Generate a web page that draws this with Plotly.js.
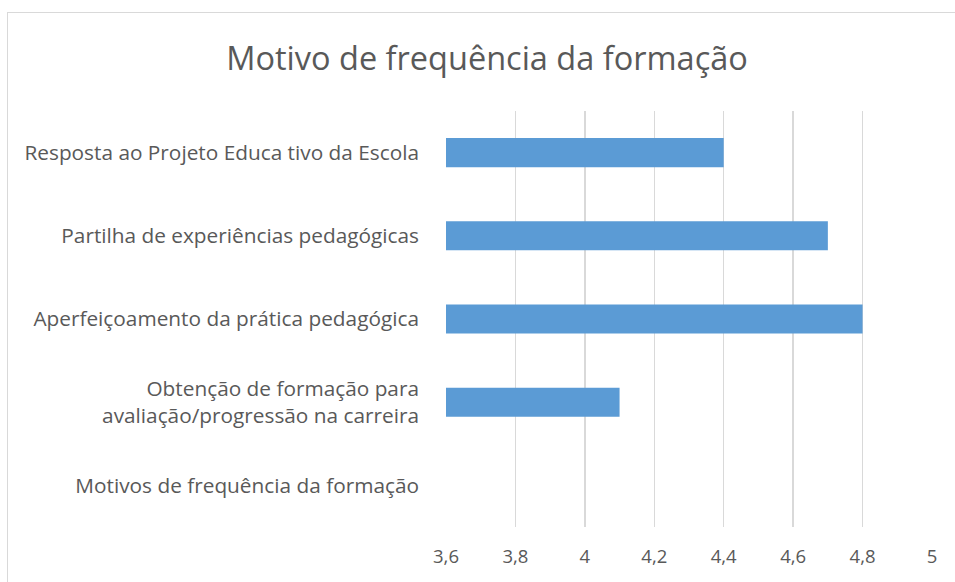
<!DOCTYPE html>
<html>
<head>
<meta charset="utf-8">
<script src="https://cdn.plot.ly/plotly-3.0.1.min.js"></script>
<style>
  html, body { margin: 0; padding: 0; background: #fff; }
  #chart { width: 955px; height: 582px; position: absolute; left: 0; top: 0; }
  #frame { position: absolute; left: 7px; top: 12px; width: 960px; height: 580px; border: 1px solid #d9d9d9; pointer-events: none; }
</style>
</head>
<body>
<div id="chart"></div>
<div id="frame"></div>
<script>
const categories = [
  "Resposta ao Projeto Educa tivo da Escola",
  "Partilha de experiências pedagógicas",
  "Aperfeiçoamento da prática pedagógica",
  "Obtenção de formação para<br>avaliação/progressão na carreira",
  "Motivos de frequência da formação"
];
const values = [4.4, 4.7, 4.8, 4.1, null];
const tickValues = [3.6, 3.8, 4, 4.2, 4.4, 4.6, 4.8, 5];
const axisMin = 3.6;
const axisMax = 5;

const font = "Open Sans, Noto Sans, sans-serif";

Plotly.newPlot("chart", [{
  type: "bar",
  orientation: "h",
  y: categories,
  x: values.map(v => v === null ? null : v - axisMin),
  base: axisMin,
  marker: { color: "#5b9bd5" },
  width: 0.35,
  hoverinfo: "y"
}], {
  width: 955,
  height: 582,
  separators: ",.",
  paper_bgcolor: "#ffffff",
  plot_bgcolor: "#ffffff",
  margin: { l: 446, r: 23, t: 111, b: 55 },
  title: {
    text: "Motivo de frequência da formação",
    font: { family: font, size: 32.5, color: "#595959" },
    x: 0.51, xanchor: "center", xref: "container",
    y: 0.899, yanchor: "middle", yref: "container"
  },
  xaxis: {
    range: [axisMin, axisMax],
    tickvals: tickValues,
    ticktext: tickValues.map(v => String(v).replace(".", ",")),
    showgrid: true,
    gridcolor: "#d9d9d9",
    gridwidth: 1.5,
    zeroline: false,
    showline: false,
    ticks: "",
    ticklabelstandoff: 16,
    tickfont: { family: font, size: 18.5, color: "#595959" },
    fixedrange: true
  },
  yaxis: {
    type: "category",
    categoryorder: "array",
    categoryarray: categories,
    autorange: "reversed",
    showgrid: false,
    zeroline: false,
    showline: false,
    ticks: "",
    ticklabelstandoff: 26,
    tickfont: { family: font, size: 20.8, color: "#595959" },
    fixedrange: true
  },
  showlegend: false
}, { displayModeBar: false, staticPlot: true });
</script>
</body>
</html>
